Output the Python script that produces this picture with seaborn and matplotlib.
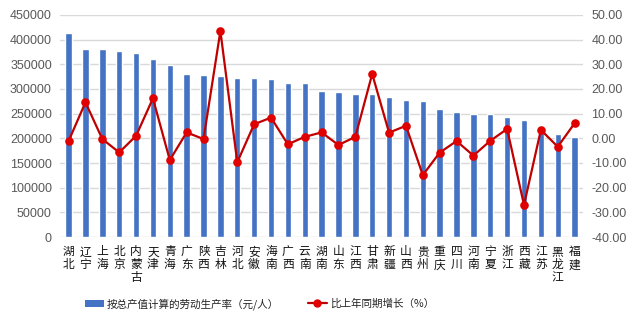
import numpy as np
import pandas as pd
import matplotlib
matplotlib.use("Agg")
import matplotlib.pyplot as plt
from matplotlib.patches import Patch
from matplotlib.lines import Line2D
import seaborn as sns

provinces = ["湖北", "辽宁", "上海", "北京", "内蒙古", "天津", "青海", "广东", "陕西", "吉林",
             "河北", "安徽", "海南", "广西", "云南", "湖南", "山东", "江西", "甘肃", "新疆",
             "山西", "贵州", "重庆", "四川", "河南", "宁夏", "浙江", "西藏", "江苏", "黑龙江", "福建"]

productivity = [413000, 381000, 380500, 377500, 372500, 361000, 349500, 331000, 329000, 326500,
                322500, 321500, 319500, 312500, 311500, 295500, 294000, 290000, 289000, 283000,
                278500, 275000, 259000, 253500, 249500, 249000, 242500, 237000, 222000, 209000, 203500]

growth = [-1.1, 14.6, -0.3, -5.7, 1.0, 16.2, -8.8, 2.4, -0.3, 43.5,
          -9.7, 5.7, 8.4, -2.4, 0.6, 2.4, -2.7, 0.6, 26.1, 2.3,
          5.1, -14.9, -5.8, -1.1, -7.0, -1.0, 3.8, -27.0, 3.4, -3.4, 6.1]

bar_label = "按总产值计算的劳动生产率（元/人）"
line_label = "比上年同期增长（%）"

left_ticks = list(range(0, 450001, 50000))
right_ticks = list(range(-40, 51, 10))

sns.set_theme(style="white")
plt.rcParams["font.family"] = ["Liberation Sans", "Noto Sans CJK SC", "DejaVu Sans"]

df = pd.DataFrame({"province": provinces, "productivity": productivity, "growth": growth})

BAR_COLOR = "#4472C4"
LINE_COLOR = "#C00000"
MARKER_COLOR = "#E00000"
TICK_COLOR = "#595959"
GRID_COLOR = "#D9D9D9"
CJK = ["Noto Sans CJK SC", "DejaVu Sans"]

fig = plt.figure(figsize=(6.4, 3.26), dpi=100)
ax = fig.add_axes([0.094, 0.273, 0.817, 0.681])

sns.barplot(data=df, x="province", y="productivity", order=provinces,
            color=BAR_COLOR, saturation=1, width=0.38, ax=ax, zorder=2)

ax.set_ylim(0, 450000)
ax.set_yticks(left_ticks)
ax.set_xlim(-0.5, len(provinces) - 0.5)
ax.grid(axis="y", color=GRID_COLOR, linewidth=1, zorder=0)
ax.set_axisbelow(True)
for s in ax.spines.values():
    s.set_visible(False)
ax.set_xlabel("")
ax.set_ylabel("")
ax.tick_params(axis="y", length=0, labelsize=9, labelcolor=TICK_COLOR, pad=6)
ax.tick_params(axis="x", length=0, pad=6)
ax.set_xticks(range(len(provinces)))
ax.set_xticklabels(["\n".join(p) for p in provinces], fontsize=8.5,
                   family=CJK, color="#111111", linespacing=1.0, va="top")

ax2 = ax.twinx()
sns.pointplot(data=df, x="province", y="growth", order=provinces, ax=ax2,
              color=LINE_COLOR, markers="o", linestyles="-",
              markersize=5, linewidth=1.6,
              markerfacecolor=MARKER_COLOR, markeredgecolor=MARKER_COLOR)
ax2.set_ylim(-40, 50)
ax2.set_yticks(right_ticks)
ax2.set_yticklabels([f"{t:.2f}" for t in right_ticks])
ax2.set_xlim(-0.5, len(provinces) - 0.5)
for s in ax2.spines.values():
    s.set_visible(False)
ax2.set_xlabel("")
ax2.set_ylabel("")
ax2.grid(False)
ax2.tick_params(axis="y", length=0, labelsize=9, labelcolor=TICK_COLOR, pad=6)

handles = [
    Patch(facecolor=BAR_COLOR, edgecolor="none", label=bar_label),
    Line2D([0], [0], color=LINE_COLOR, linewidth=1.6, marker="o", markersize=5,
           markerfacecolor=MARKER_COLOR, markeredgecolor=MARKER_COLOR, label=line_label),
]
fig.legend(handles=handles, loc="center", bbox_to_anchor=(0.4055, 0.068), ncol=2,
           frameon=False, prop={"family": CJK, "size": 7.6},
           columnspacing=2.7, handlelength=1.8, handletextpad=0.3,
           labelcolor="#222222")

fig.savefig("out.png", dpi=100)
